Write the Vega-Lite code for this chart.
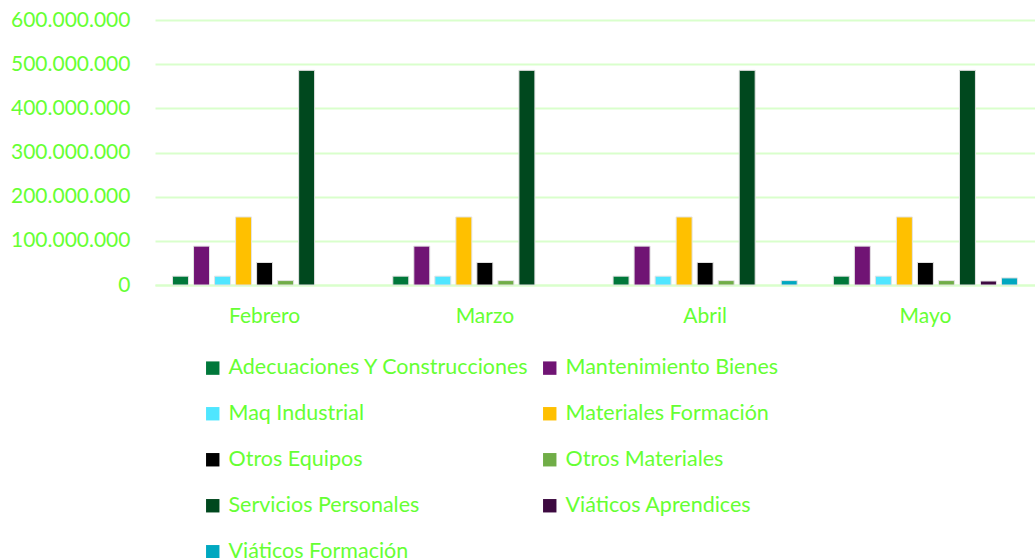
{
  "$schema": "https://vega.github.io/schema/vega-lite/v6.json",
  "autosize": {"type": "none"},
  "width": 880,
  "height": 265,
  "padding": {"left": 155, "top": 20, "right": 0, "bottom": 273},
  "background": "white",
  "config": {
    "locale": {"number": {"decimal": ",", "thousands": ".", "grouping": [3], "currency": ["$", ""]}},
    "font": "Lato",
    "view": {"stroke": null}
  },
  "data": {
    "values": [
      {"mes": "Febrero", "cat": "Adecuaciones Y Construcciones", "valor": 20000000},
      {"mes": "Febrero", "cat": "Mantenimiento Bienes", "valor": 88000000},
      {"mes": "Febrero", "cat": "Maq Industrial", "valor": 20000000},
      {"mes": "Febrero", "cat": "Materiales Formación", "valor": 154000000},
      {"mes": "Febrero", "cat": "Otros Equipos", "valor": 51000000},
      {"mes": "Febrero", "cat": "Otros Materiales", "valor": 10000000},
      {"mes": "Febrero", "cat": "Servicios Personales", "valor": 486000000},
      {"mes": "Febrero", "cat": "Viáticos Aprendices", "valor": 0},
      {"mes": "Febrero", "cat": "Viáticos Formación", "valor": 0},
      {"mes": "Marzo", "cat": "Adecuaciones Y Construcciones", "valor": 20000000},
      {"mes": "Marzo", "cat": "Mantenimiento Bienes", "valor": 88000000},
      {"mes": "Marzo", "cat": "Maq Industrial", "valor": 20000000},
      {"mes": "Marzo", "cat": "Materiales Formación", "valor": 154000000},
      {"mes": "Marzo", "cat": "Otros Equipos", "valor": 51000000},
      {"mes": "Marzo", "cat": "Otros Materiales", "valor": 10000000},
      {"mes": "Marzo", "cat": "Servicios Personales", "valor": 486000000},
      {"mes": "Marzo", "cat": "Viáticos Aprendices", "valor": 0},
      {"mes": "Marzo", "cat": "Viáticos Formación", "valor": 0},
      {"mes": "Abril", "cat": "Adecuaciones Y Construcciones", "valor": 20000000},
      {"mes": "Abril", "cat": "Mantenimiento Bienes", "valor": 88000000},
      {"mes": "Abril", "cat": "Maq Industrial", "valor": 20000000},
      {"mes": "Abril", "cat": "Materiales Formación", "valor": 154000000},
      {"mes": "Abril", "cat": "Otros Equipos", "valor": 51000000},
      {"mes": "Abril", "cat": "Otros Materiales", "valor": 10000000},
      {"mes": "Abril", "cat": "Servicios Personales", "valor": 486000000},
      {"mes": "Abril", "cat": "Viáticos Aprendices", "valor": 0},
      {"mes": "Abril", "cat": "Viáticos Formación", "valor": 10000000},
      {"mes": "Mayo", "cat": "Adecuaciones Y Construcciones", "valor": 20000000},
      {"mes": "Mayo", "cat": "Mantenimiento Bienes", "valor": 88000000},
      {"mes": "Mayo", "cat": "Maq Industrial", "valor": 20000000},
      {"mes": "Mayo", "cat": "Materiales Formación", "valor": 154000000},
      {"mes": "Mayo", "cat": "Otros Equipos", "valor": 51000000},
      {"mes": "Mayo", "cat": "Otros Materiales", "valor": 10000000},
      {"mes": "Mayo", "cat": "Servicios Personales", "valor": 486000000},
      {"mes": "Mayo", "cat": "Viáticos Aprendices", "valor": 9000000},
      {"mes": "Mayo", "cat": "Viáticos Formación", "valor": 16000000}
    ]
  },
  "transform": [{"filter": "datum.valor > 0"}],
  "mark": {"type": "bar", "stroke": "#E3E3E3", "strokeWidth": 1},
  "encoding": {
    "x": {
      "field": "mes",
      "type": "nominal",
      "sort": ["Febrero", "Marzo", "Abril", "Mayo"],
      "scale": {"paddingInner": 0.145, "paddingOuter": 0.07},
      "axis": {
        "title": null,
        "labelAngle": 0,
        "labelColor": "#66FF33",
        "labelFontSize": 21,
        "labelPadding": 20,
        "ticks": false,
        "domain": true,
        "domainColor": "#D9FFCC",
        "domainWidth": 2
      }
    },
    "xOffset": {
      "field": "cat",
      "type": "nominal",
      "scale": {
        "domain": ["Adecuaciones Y Construcciones", "Mantenimiento Bienes", "Maq Industrial", "Materiales Formación", "Otros Equipos", "Otros Materiales", "Servicios Personales", "Viáticos Aprendices", "Viáticos Formación"],
        "paddingInner": 0.24, "paddingOuter": 0.1
      }
    },
    "y": {
      "field": "valor",
      "type": "quantitative",
      "scale": {"domain": [0, 600000000]},
      "axis": {
        "title": null,
        "format": ",d",
        "values": [0, 100000000, 200000000, 300000000, 400000000, 500000000, 600000000],
        "labelOverlap": false,
        "labelColor": "#66FF33",
        "labelFontSize": 21,
        "labelPadding": 25,
        "ticks": false,
        "domain": false,
        "gridColor": "#D9FFCC",
        "gridWidth": 2
      }
    },
    "color": {
      "field": "cat",
      "type": "nominal",
      "scale": {
        "domain": ["Adecuaciones Y Construcciones", "Mantenimiento Bienes", "Maq Industrial", "Materiales Formación", "Otros Equipos", "Otros Materiales", "Servicios Personales", "Viáticos Aprendices", "Viáticos Formación"],
        "range": ["#00783A", "#701474", "#4FE6FF", "#FFC000", "#000000", "#70AD47", "#00481E", "#3D0A40", "#00A8C0"]
      },
      "legend": {
        "title": null,
        "orient": "none",
        "direction": "horizontal",
        "legendX": 47,
        "legendY": 337,
        "columns": 2,
        "columnPadding": 9,
        "rowPadding": 23,
        "symbolType": "square",
        "symbolSize": 180,
        "symbolStrokeWidth": 0,
        "labelColor": "#66FF33",
        "labelFontSize": 21.5,
        "labelOffset": 5,
        "labelLimit": 400
      }
    }
  }
}
